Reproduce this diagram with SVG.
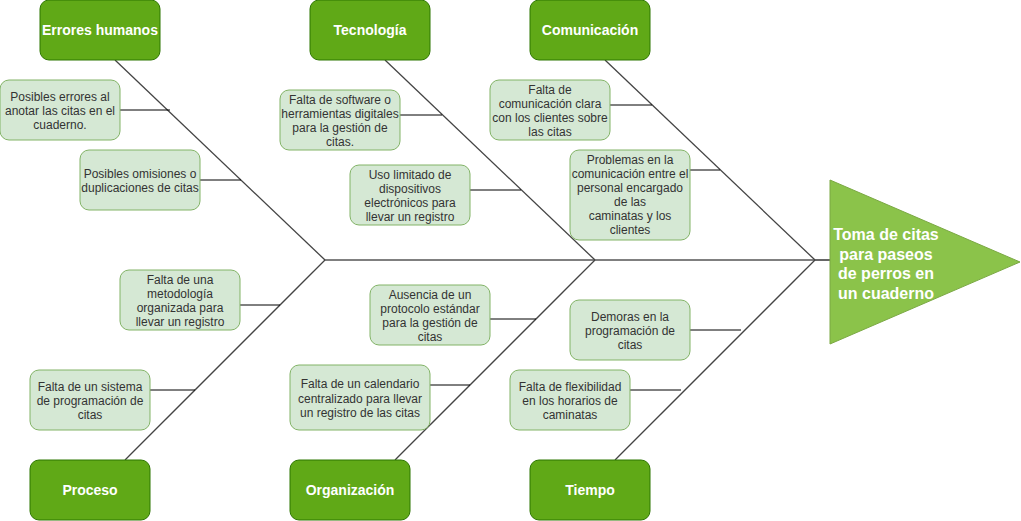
<svg xmlns="http://www.w3.org/2000/svg" width="1021" height="521" viewBox="0 0 1021 521">
<style>
.cat rect{fill:#60a917;stroke:#2d7600;stroke-width:1}
.cat text{font-family:"Liberation Sans",Arial,sans-serif;font-size:14px;font-weight:bold;fill:#ffffff;text-anchor:middle}
.cause rect{fill:#d5e8d4;stroke:#82b366;stroke-width:1}
.cause text{font-family:"Liberation Sans",Arial,sans-serif;font-size:12px;fill:#333333;text-anchor:middle}
.bone{stroke:#444444;stroke-width:1.3;fill:none}
.tick{stroke:#000000;stroke-width:1;fill:none}
.head polygon{fill:#8bc34a;stroke:#7aa843;stroke-width:1}
.head text{font-family:"Liberation Sans",Arial,sans-serif;font-size:16px;font-weight:bold;fill:#ffffff;text-anchor:middle}
</style>
<rect width="1021" height="521" fill="#ffffff"/>
<g id="connectors">
<line class="tick" x1="325" y1="260" x2="815" y2="260"/>
<line x1="815" y1="260" x2="830" y2="260" stroke="#666666" stroke-width="2"/>
<line class="bone" x1="115" y1="60" x2="325" y2="260"/>
<line class="bone" x1="385" y1="60" x2="595" y2="260"/>
<line class="bone" x1="605" y1="60" x2="815" y2="260"/>
<line class="bone" x1="125" y1="460" x2="325" y2="260"/>
<line class="bone" x1="395" y1="460" x2="595" y2="260"/>
<line class="bone" x1="615" y1="460" x2="815" y2="260"/>
<line class="tick" x1="120" y1="110" x2="170" y2="110"/>
<line class="tick" x1="200" y1="180" x2="241" y2="180"/>
<line class="tick" x1="400" y1="115" x2="442" y2="115"/>
<line class="tick" x1="470" y1="190" x2="521" y2="190"/>
<line class="tick" x1="610" y1="105" x2="652" y2="105"/>
<line class="tick" x1="690" y1="170" x2="720" y2="170"/>
<line class="tick" x1="240" y1="305" x2="280" y2="305"/>
<line class="tick" x1="150" y1="390" x2="195" y2="390"/>
<line class="tick" x1="490" y1="319" x2="536" y2="319"/>
<line class="tick" x1="430" y1="385" x2="470" y2="385"/>
<line class="tick" x1="690" y1="330" x2="741" y2="330"/>
<line class="tick" x1="630" y1="390" x2="681" y2="390"/>
</g>
<g id="head" class="head">
<polygon points="830,180 1020,262 830,344"/>
<text x="886" y="240">Toma de citas</text>
<text x="886" y="259.5">para paseos</text>
<text x="886" y="279">de perros en</text>
<text x="886" y="298.5">un cuaderno</text>
</g>
<g id="cat-errores" class="cat"><rect x="40" y="0" width="120" height="60" rx="9"/><text x="100" y="35">Errores humanos</text></g>
<g id="cat-tecnologia" class="cat"><rect x="310" y="0" width="120" height="60" rx="9"/><text x="370" y="35">Tecnología</text></g>
<g id="cat-comunicacion" class="cat"><rect x="530" y="0" width="120" height="60" rx="9"/><text x="590" y="35">Comunicación</text></g>
<g id="cat-proceso" class="cat"><rect x="30" y="460" width="120" height="60" rx="9"/><text x="90" y="495">Proceso</text></g>
<g id="cat-organizacion" class="cat"><rect x="290" y="460" width="120" height="60" rx="9"/><text x="350" y="495">Organización</text></g>
<g id="cat-tiempo" class="cat"><rect x="530" y="460" width="120" height="60" rx="9"/><text x="590" y="495">Tiempo</text></g>
<g id="c1" class="cause"><rect x="0" y="80" width="120" height="60" rx="9"/>
<text x="60" y="100.5">Posibles errores al</text><text x="60" y="114.5">anotar las citas en el</text><text x="60" y="128.5">cuaderno.</text></g>
<g id="c2" class="cause"><rect x="80" y="150" width="120" height="60" rx="9"/>
<text x="140" y="177.5">Posibles omisiones o</text><text x="140" y="191.5">duplicaciones de citas</text></g>
<g id="c3" class="cause"><rect x="280" y="90" width="120" height="60" rx="9"/>
<text x="340" y="103.5">Falta de software o</text><text x="340" y="117.5">herramientas digitales</text><text x="340" y="131.5">para la gestión de</text><text x="340" y="145.5">citas.</text></g>
<g id="c4" class="cause"><rect x="350" y="165" width="120" height="60" rx="9"/>
<text x="410" y="178.5">Uso limitado de</text><text x="410" y="192.5">dispositivos</text><text x="410" y="206.5">electrónicos para</text><text x="410" y="220.5">llevar un registro</text></g>
<g id="c5" class="cause"><rect x="490" y="80" width="120" height="60" rx="9"/>
<text x="550" y="93.5">Falta de</text><text x="550" y="107.5">comunicación clara</text><text x="550" y="121.5">con los clientes sobre</text><text x="550" y="135.5">las citas</text></g>
<g id="c6" class="cause"><rect x="570" y="150" width="120" height="90" rx="9"/>
<text x="630" y="164">Problemas en la</text><text x="630" y="178">comunicación entre el</text><text x="630" y="192">personal encargado</text><text x="630" y="206">de las</text><text x="630" y="220">caminatas y los</text><text x="630" y="234">clientes</text></g>
<g id="c7" class="cause"><rect x="120" y="270" width="120" height="60" rx="9"/>
<text x="180" y="283.5">Falta de una</text><text x="180" y="297.5">metodología</text><text x="180" y="311.5">organizada para</text><text x="180" y="325.5">llevar un registro</text></g>
<g id="c8" class="cause"><rect x="30" y="370" width="120" height="60" rx="9"/>
<text x="90" y="390.5">Falta de un sistema</text><text x="90" y="404.5">de programación de</text><text x="90" y="418.5">citas</text></g>
<g id="c9" class="cause"><rect x="370" y="285" width="120" height="60" rx="9"/>
<text x="430" y="298.5">Ausencia de un</text><text x="430" y="312.5">protocolo estándar</text><text x="430" y="326.5">para la gestión de</text><text x="430" y="340.5">citas</text></g>
<g id="c10" class="cause"><rect x="290" y="365" width="140" height="65" rx="9"/>
<text x="360" y="388">Falta de un calendario</text><text x="360" y="402.5">centralizado para llevar</text><text x="360" y="417">un registro de las citas</text></g>
<g id="c11" class="cause"><rect x="570" y="300" width="120" height="60" rx="9"/>
<text x="630" y="320.5">Demoras en la</text><text x="630" y="334.5">programación de</text><text x="630" y="348.5">citas</text></g>
<g id="c12" class="cause"><rect x="510" y="370" width="120" height="60" rx="9"/>
<text x="570" y="390.5">Falta de flexibilidad</text><text x="570" y="404.5">en los horarios de</text><text x="570" y="418.5">caminatas</text></g>
</svg>
